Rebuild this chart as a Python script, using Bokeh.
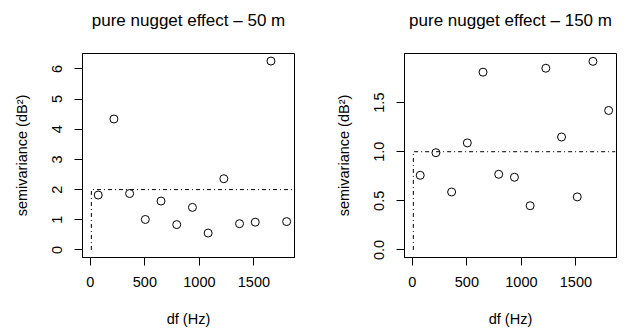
from bokeh.plotting import figure
from bokeh.layouts import row
from bokeh.models import Range1d, FixedTicker, Title
from bokeh.embed import file_html
from bokeh.resources import INLINE

# ---- data ----
lag_50 = [72, 216, 360, 504, 648, 792, 936, 1080, 1224, 1368, 1512, 1656, 1800]
gamma_50 = [1.82, 4.34, 1.87, 1.01, 1.62, 0.84, 1.41, 0.56, 2.36, 0.87, 0.92, 6.26, 0.94]
lag_150 = [72, 216, 360, 504, 648, 792, 936, 1080, 1224, 1368, 1512, 1656, 1800]
gamma_150 = [0.76, 0.99, 0.59, 1.09, 1.81, 0.77, 0.74, 0.45, 1.85, 1.15, 0.54, 1.92, 1.42]
model_h = [9, 9, 1860]
model_50 = [0, 2, 2]
model_150 = [0, 1, 1]

x_ticks = [0, 500, 1000, 1500]
y_ticks_50 = [0, 1, 2, 3, 4, 5, 6]
y_ticks_150 = [0, 0.5, 1.0, 1.5]
y_labels_150 = {0: "0.0", 0.5: "0.5", 1.0: "1.0", 1.5: "1.5"}

titles = ["pure nugget effect \u2013 50 m", "pure nugget effect \u2013 150 m"]
x_label = "df (Hz)"
y_label = "semivariance (dB\u00b2)"

FONT = "Liberation Sans"


def make_panel(lag, gamma, model, title, yticks, ylabels, yrange, left, right):
    p = figure(width=313, height=331, output_backend="svg", toolbar_location=None,
               x_range=Range1d(-72, 1872), y_range=Range1d(*yrange),
               min_border_left=left, min_border_right=right,
               min_border_top=53, min_border_bottom=74)
    p.title.text = title
    p.title.align = "center"
    p.title.text_font = FONT
    p.title.text_font_size = "17px"
    p.title.text_font_style = "normal"
    p.title.text_color = "black"
    # empty spacer between title and frame
    p.add_layout(Title(text=" ", text_font_size="16px", standoff=0), "above")
    p.grid.visible = False
    p.outline_line_color = "black"
    p.outline_line_width = 1
    p.background_fill_color = "white"
    p.border_fill_color = "white"

    for ax in (p.xaxis[0], p.yaxis[0]):
        ax.axis_line_color = "black"
        ax.major_tick_line_color = "black"
        ax.major_tick_out = 8
        ax.major_tick_in = 0
        ax.minor_tick_line_color = None
        ax.major_label_text_font = FONT
        ax.major_label_text_font_size = "14.5px"
        ax.major_label_text_color = "black"
        ax.axis_label_text_font = FONT
        ax.axis_label_text_font_size = "14.5px"
        ax.axis_label_text_font_style = "normal"
        ax.axis_label_text_color = "black"

    p.xaxis[0].ticker = FixedTicker(ticks=x_ticks)
    p.xaxis[0].axis_label = x_label
    p.xaxis[0].major_label_standoff = 11
    p.xaxis[0].axis_label_standoff = 21
    p.yaxis[0].ticker = FixedTicker(ticks=yticks)
    if ylabels:
        p.yaxis[0].major_label_overrides = ylabels
    p.yaxis[0].major_label_orientation = "vertical"
    p.yaxis[0].major_label_standoff = 12
    p.yaxis[0].axis_label = y_label
    p.yaxis[0].axis_label_standoff = 20

    p.line(model_h, model, line_color="black", line_width=1, line_dash="4 3 1 3")
    p.scatter(lag, gamma, marker="circle", size=8, fill_color=None,
              line_color="black", line_width=1)
    return p


p1 = make_panel(lag_50, gamma_50, model_50, titles[0], y_ticks_50, None,
                (-0.25, 6.51), 82, 19)
p2 = make_panel(lag_150, gamma_150, model_150, titles[1], y_ticks_150, y_labels_150,
                (-0.077, 2.0), 91, 10)

layout = row(p1, p2)
open("out.html", "w").write(file_html(layout, INLINE))
